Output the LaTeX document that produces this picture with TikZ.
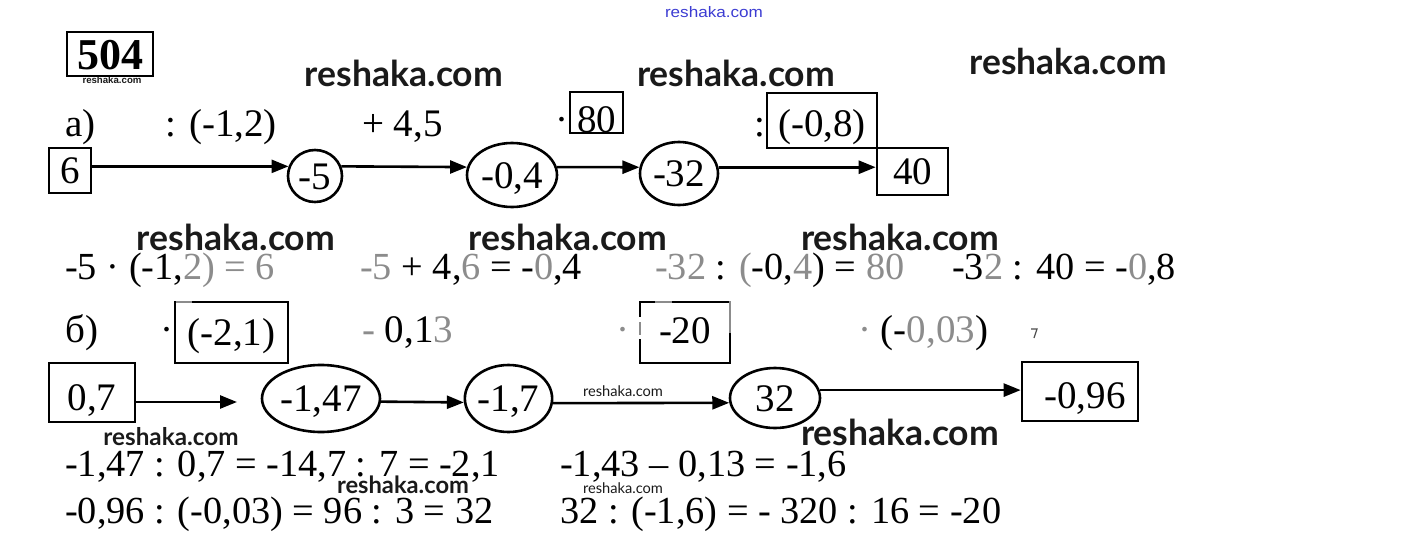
\documentclass[tikz,border=0pt]{standalone}
\usepackage{fontspec}
\setmainfont{Liberation Serif}
\newfontfamily\wmfont{Lato}
\newfontfamily\wmsmall{Liberation Sans}
\usetikzlibrary{shapes.geometric,arrows.meta}
\definecolor{gr}{gray}{0.55}
\definecolor{wmc}{HTML}{1A1A1A}
\definecolor{wmblue}{RGB}{60,60,210}
\newcommand{\g}[1]{\textcolor{gr}{#1}}
\newcommand{\wmbig}[1]{\resizebox{#1}{!}{\wmfont\bfseries reshaka.com}}
\begin{document}
\begin{tikzpicture}[x=1pt,y=-1pt,
  every node/.style={inner sep=0pt, font=\fontsize{39}{40}\selectfont},
  lbl/.style={anchor=base west},
  eq/.style={anchor=base west, font=\fontsize{38.3}{40}\selectfont},
  box/.style={draw, line width=2.6pt, rectangle, text height=26pt, text depth=0pt},
  oval/.style={draw, line width=2.6pt, ellipse, text height=26pt, text depth=0pt},
  arr/.style={line width=2.6pt, -{Triangle[length=17pt,width=13pt]}},
  wm/.style={text=wmc}]
\useasboundingbox (0,0) rectangle (1428,549);

% watermarks
\node[text=wmblue] (w0) at (714,12) {\resizebox{98pt}{11pt}{\wmsmall reshaka.com}};
\node[wm] (w1) at (404,73) {\wmbig{198pt}};
\node[wm] (w2) at (736,73) {\wmbig{198pt}};
\node[wm] (w3) at (1068,61) {\wmbig{197pt}};
\node[wm] (w4) at (236,237) {\wmbig{198pt}};
\node[wm] (w5) at (568,237) {\wmbig{198pt}};
\node[wm] (w6) at (900,237) {\wmbig{198pt}};
\node[wm] (w7) at (900,432) {\wmbig{198pt}};
\node[wm] (w8) at (171,437) {\wmbig{135pt}};
\node[wm] (w9) at (403,485) {\wmbig{132pt}};
\node[wm] (w10) at (623,391) {\resizebox{80pt}{!}{\wmfont reshaka.com}};
\node[wm] (w11) at (623,488) {\resizebox{80pt}{!}{\wmfont reshaka.com}};
\node[wm] (w12) at (112,80) {\resizebox{59pt}{7pt}{\wmsmall\bfseries reshaka.com}};

% title
\node[draw, line width=2.6pt, minimum width=86pt, minimum height=44pt,
      font=\fontsize{44}{44}\selectfont\bfseries, text height=30pt, text depth=0pt] (t504) at (110,54) {504};

% ---- part a ----
\node[lbl] (la) at (65,136) {a)};
\node[lbl] (op1) at (165,136) {: (-1,2)};
\node[lbl] (op2) at (362,136) {+ 4,5};
\node[box, minimum width=53pt, minimum height=41pt, text height=39pt] (n80) at (596.5,112.5) {80};
\node[anchor=base east] (d80) at (569,132) {·};
\node[box, minimum width=110pt, minimum height=55pt, text height=31pt] (n08) at (822,120.5) {(-0,8)};
\node[anchor=base east] (c08) at (766,136) {:};

\node[box, minimum width=42pt, minimum height=45pt] (n6) at (70,170.5) {6};
\node[oval, minimum width=54pt, minimum height=52pt] (m5) at (315,176) {-5};
\node[oval, minimum width=90pt, minimum height=64pt] (m04) at (512,175) {-0,4};
\node[oval, minimum width=78pt, minimum height=63pt] (m32) at (679,173.5) {-32};
\node[box, minimum width=71pt, minimum height=47pt] (n40) at (912.5,171.5) {40};

\draw[arr] (n6.east |- m5.160) -- (m5.160);
\draw[arr] (m5.20) -- (m04.170);
\draw[arr] (m04.10) -- (m32.171);
\draw[arr] (m32.9) -- (n40.west |- m32.9);

\node[eq] (e1) at (65,279) {-5 · (-1,\g{2) = 6}};
\node[eq] (e2) at (360,279) {\g{-5} + 4,\g{6} = -\g{0},4};
\node[eq] (e3) at (655,279) {\g{-32} : \g{(}-0,\g{4}) = \g{80}};
\node[eq] (e4) at (952,279) {-3\g{2} : 40 = -\g{0},8};

% ---- part b ----
\node[lbl] (lb) at (65,342) {б)};
\node[box, minimum width=113pt, minimum height=61pt] (n21) at (231.5,332.5) {(-2,1)};
\node[anchor=base east] (d21) at (174,342) {·};
\node[lbl] (op3) at (362,342) {\g{-} 0,1\g{3}};
\node[box, minimum width=90pt, minimum height=61pt, text depth=5pt] (n20) at (685,332.5) {-20};
\node[anchor=base east, text=gr] (d20) at (630,342) {·};
\node[lbl] (op4) at (858,342) {\g{·} (-\g{0,03})};

% artefacts of the scan
\draw[gr, line width=2.6pt] (176,302) -- (192,302);
\draw[gr, line width=2.6pt] (655,302) -- (672,302);
\draw[white, line width=4pt] (640,317) -- (640,339);
\draw[gr, line width=2pt] (640,322) -- (640,335);
\draw[gr, line width=2.6pt] (730,301) -- (730,333);
\draw[gr, line width=2.6pt] (1068,362) -- (1085,362);
\draw[black!70, line width=1.2pt] (1031,329) -- (1037,329) -- (1034,338);

\node[box, minimum width=86pt, minimum height=59pt, text height=35pt] (n07) at (92,392.5) {0,7};
\coordinate (c1) at (237,402);
\node[oval, minimum width=118pt, minimum height=67pt] (m147) at (321,398.5) {-1,47};
\node[oval, minimum width=87pt, minimum height=67pt] (m17) at (508.5,398.5) {-1,7};
\node[oval, minimum width=90pt, minimum height=60pt] (m32b) at (775,398) {32};
\node[box, minimum width=116pt, minimum height=59pt, text height=33pt] (n096) at (1080,391.5) {\hspace*{10pt}-0,96};

\draw[arr] (n07.east |- c1) -- (c1);
\draw[arr] (m147.-3) -- (m17.185);
\draw[arr] (m17.-6) -- (m32b.186);
\draw[arr] (m32b.10) -- (n096.west |- m32b.10);

\node[eq] (e5) at (65,476) {-1,47 : 0,7 = -14,7 : 7 = -2,1};
\node[eq] (e6) at (560,476) {-1,43 – 0,13 = -1,6};
\node[eq] (e7) at (65,523) {-0,96 : (-0,03) = 96 : 3 = 32};
\node[eq] (e8) at (560,523) {32 : (-1,6) = - 320 : 16 = -20};
\end{tikzpicture}
\end{document}
